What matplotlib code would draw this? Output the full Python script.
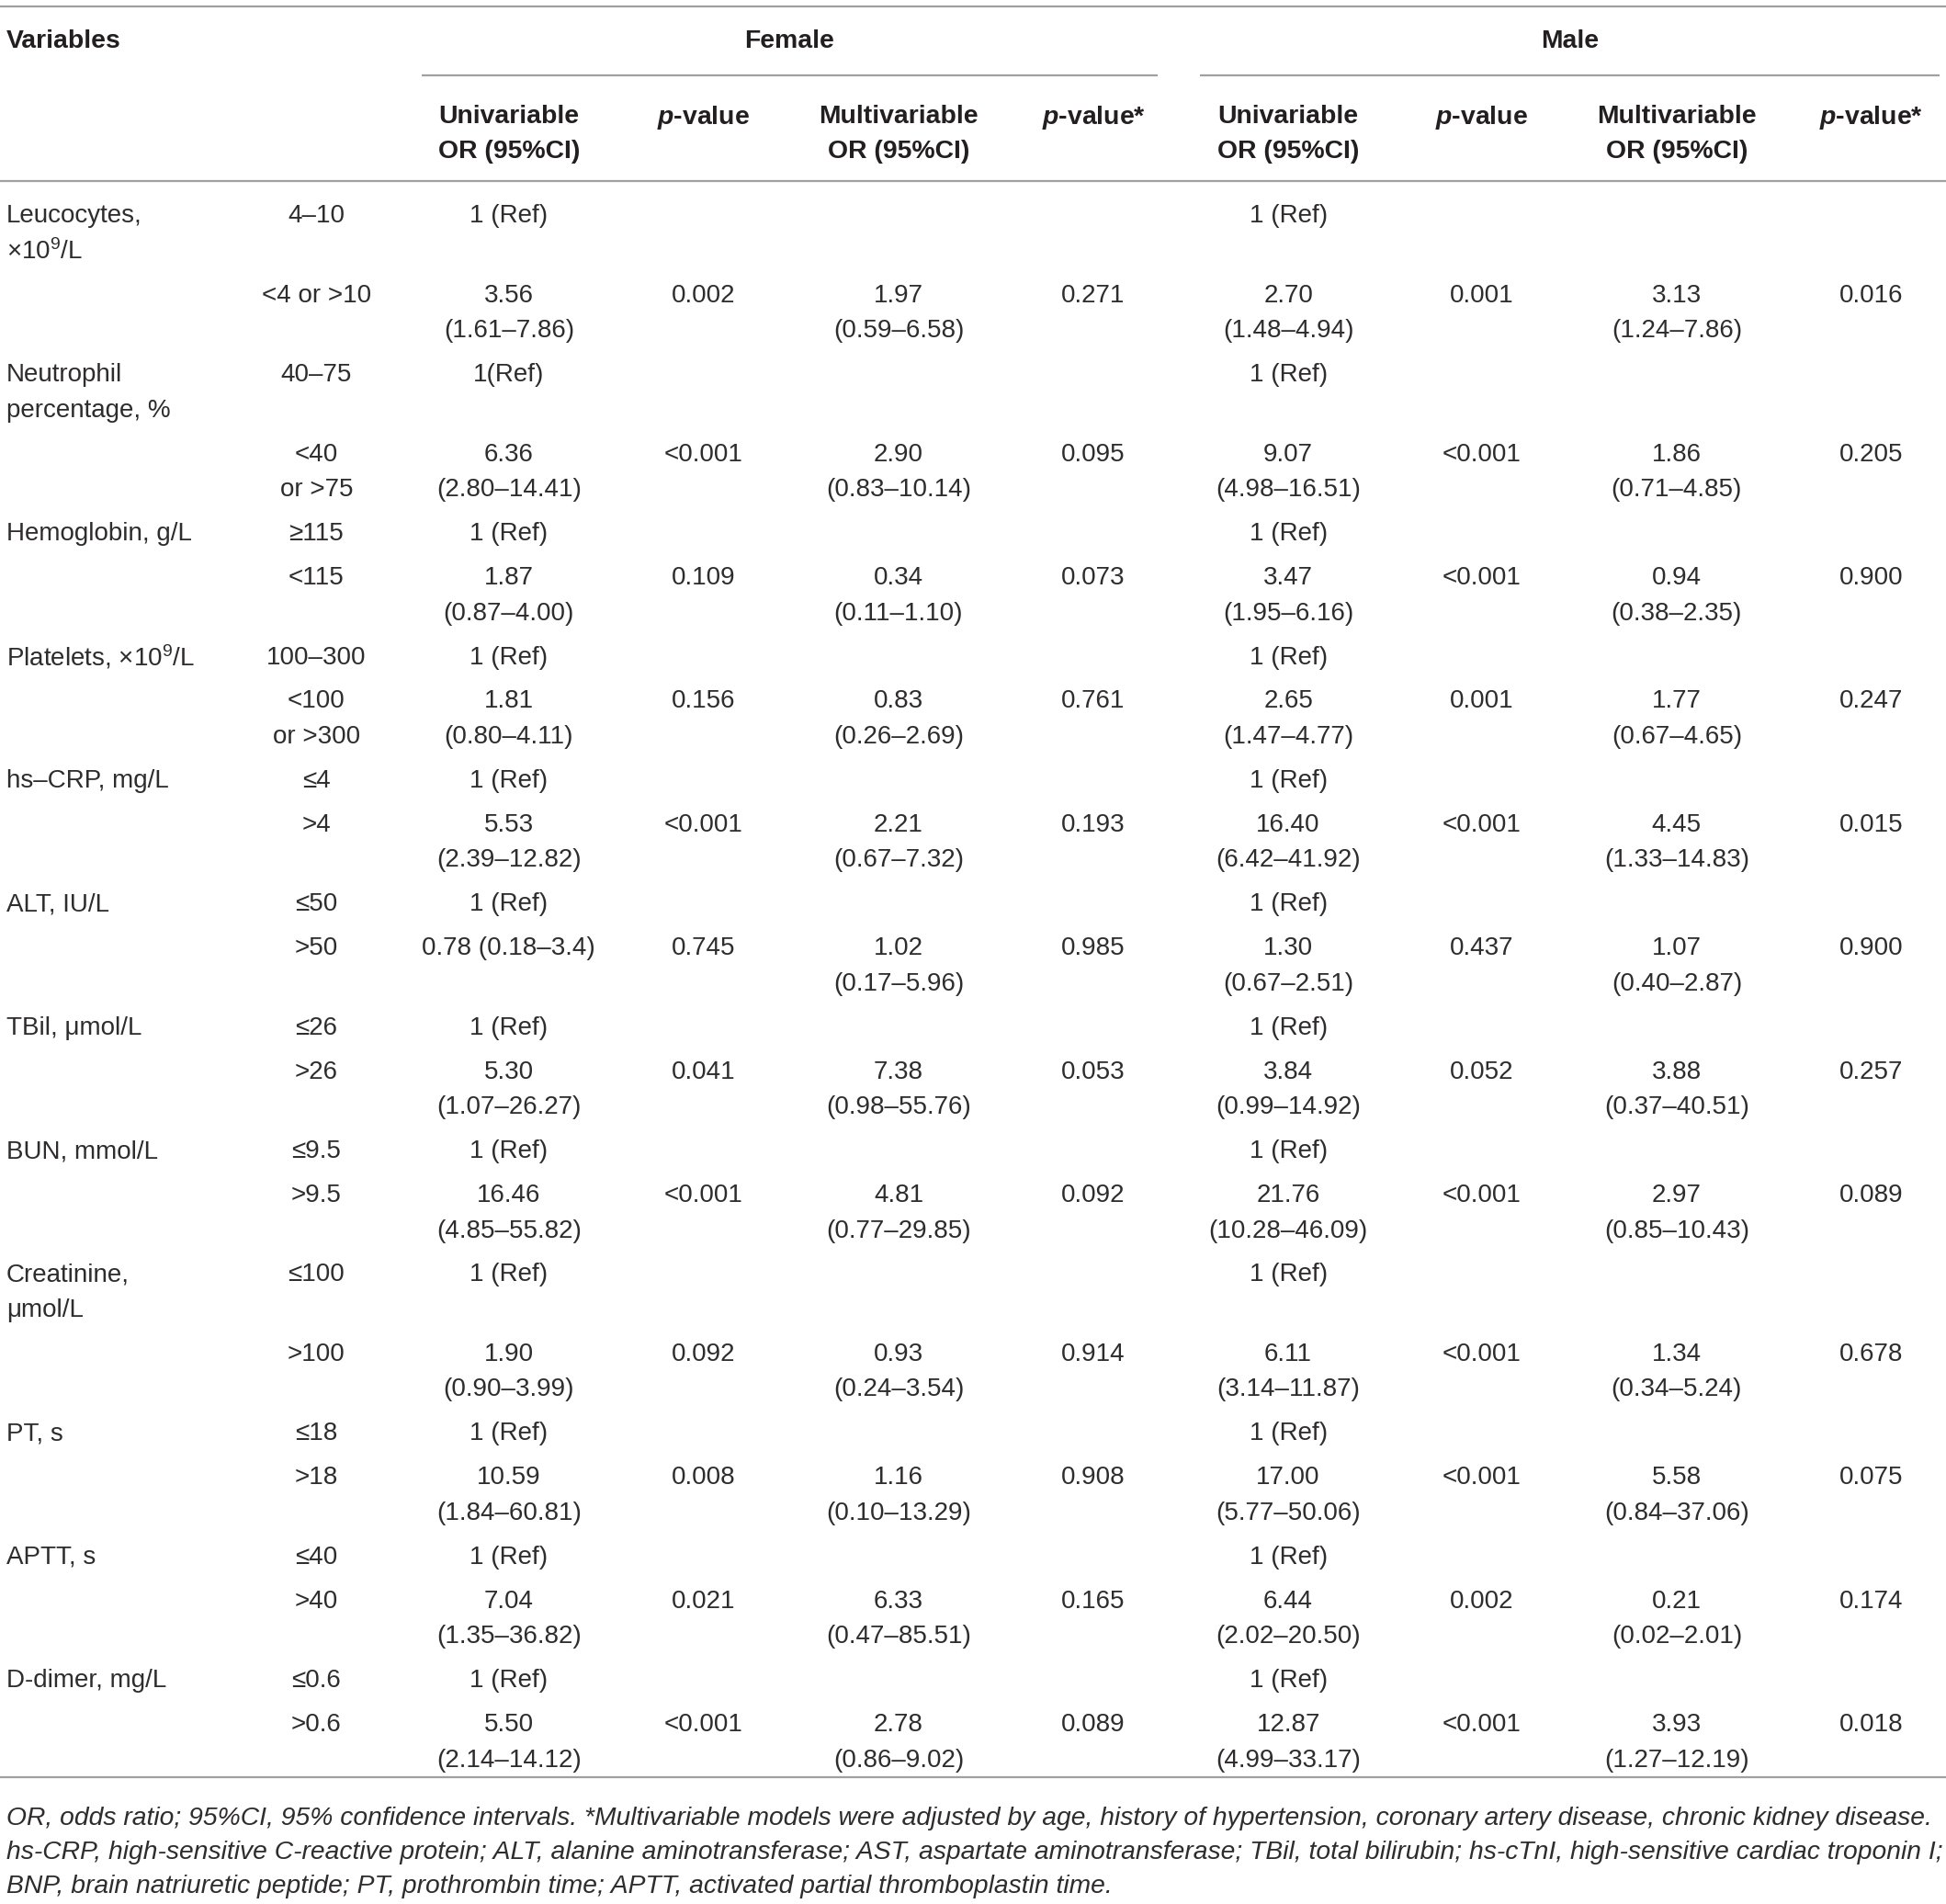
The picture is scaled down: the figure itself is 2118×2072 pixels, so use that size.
import matplotlib
matplotlib.use("Agg")
import matplotlib.pyplot as plt

plt.rcParams['font.family'] = ['Liberation Sans', 'DejaVu Sans']
plt.rcParams['mathtext.fontset'] = 'custom'
plt.rcParams['mathtext.rm'] = 'Liberation Sans'
plt.rcParams['mathtext.it'] = 'Liberation Sans:italic'
plt.rcParams['mathtext.bf'] = 'Liberation Sans:bold'
plt.rcParams['mathtext.bfit'] = 'Liberation Sans:italic:bold'

# ---------------- data ----------------
variables = ["Leucocytes,\n×10$^{9}$/L", "Neutrophil\npercentage, %", "Hemoglobin, g/L",
             "Platelets, ×10$^{9}$/L", "hs–CRP, mg/L", "ALT, IU/L", "TBil, μmol/L",
             "BUN, mmol/L", "Creatinine,\nμmol/L", "PT, s", "APTT, s", "D-dimer, mg/L"]
ref_cats = ["4–10", "40–75", "≥115", "100–300", "≤4", "≤50", "≤26", "≤9.5", "≤100",
            "≤18", "≤40", "≤0.6"]
cmp_cats = ["<4 or >10", "<40\nor >75", "<115", "<100\nor >300", ">4", ">50", ">26",
            ">9.5", ">100", ">18", ">40", ">0.6"]
female_ref = ["1 (Ref)", "1(Ref)", "1 (Ref)", "1 (Ref)", "1 (Ref)", "1 (Ref)", "1 (Ref)",
              "1 (Ref)", "1 (Ref)", "1 (Ref)", "1 (Ref)", "1 (Ref)"]
male_ref = ["1 (Ref)"] * 12

female_uni_or = ["3.56", "6.36", "1.87", "1.81", "5.53", "0.78", "5.30", "16.46", "1.90",
                 "10.59", "7.04", "5.50"]
female_uni_ci = ["1.61–7.86", "2.80–14.41", "0.87–4.00", "0.80–4.11", "2.39–12.82",
                 "0.18–3.4", "1.07–26.27", "4.85–55.82", "0.90–3.99", "1.84–60.81",
                 "1.35–36.82", "2.14–14.12"]
female_uni_p = ["0.002", "<0.001", "0.109", "0.156", "<0.001", "0.745", "0.041", "<0.001",
                "0.092", "0.008", "0.021", "<0.001"]
female_multi_or = ["1.97", "2.90", "0.34", "0.83", "2.21", "1.02", "7.38", "4.81", "0.93",
                   "1.16", "6.33", "2.78"]
female_multi_ci = ["0.59–6.58", "0.83–10.14", "0.11–1.10", "0.26–2.69", "0.67–7.32",
                   "0.17–5.96", "0.98–55.76", "0.77–29.85", "0.24–3.54", "0.10–13.29",
                   "0.47–85.51", "0.86–9.02"]
female_multi_p = ["0.271", "0.095", "0.073", "0.761", "0.193", "0.985", "0.053", "0.092",
                  "0.914", "0.908", "0.165", "0.089"]

male_uni_or = ["2.70", "9.07", "3.47", "2.65", "16.40", "1.30", "3.84", "21.76", "6.11",
               "17.00", "6.44", "12.87"]
male_uni_ci = ["1.48–4.94", "4.98–16.51", "1.95–6.16", "1.47–4.77", "6.42–41.92",
               "0.67–2.51", "0.99–14.92", "10.28–46.09", "3.14–11.87", "5.77–50.06",
               "2.02–20.50", "4.99–33.17"]
male_uni_p = ["0.001", "<0.001", "<0.001", "0.001", "<0.001", "0.437", "0.052", "<0.001",
              "<0.001", "<0.001", "0.002", "<0.001"]
male_multi_or = ["3.13", "1.86", "0.94", "1.77", "4.45", "1.07", "3.88", "2.97", "1.34",
                 "5.58", "0.21", "3.93"]
male_multi_ci = ["1.24–7.86", "0.71–4.85", "0.38–2.35", "0.67–4.65", "1.33–14.83",
                 "0.40–2.87", "0.37–40.51", "0.85–10.43", "0.34–5.24", "0.84–37.06",
                 "0.02–2.01", "1.27–12.19"]
male_multi_p = ["0.016", "0.205", "0.900", "0.247", "0.015", "0.900", "0.257", "0.089",
                "0.678", "0.075", "0.174", "0.018"]

# single-line OR cells (OR and CI on one line)
single_line_cells = {("female_uni", 5)}

group_headers = ["Female", "Male"]
col_headers = [("Univariable", "OR (95%CI)"), ("$\\mathbfit{p}$-value", None),
               ("Multivariable", "OR (95%CI)"), ("$\\mathbfit{p}$-value*", None)]

footnotes = [
    "OR, odds ratio; 95%CI, 95% confidence intervals. *Multivariable models were adjusted by age, history of hypertension, coronary artery disease, chronic kidney disease.",
    "hs-CRP, high-sensitive C-reactive protein; ALT, alanine aminotransferase; AST, aspartate aminotransferase; TBil, total bilirubin; hs-cTnI, high-sensitive cardiac troponin I;",
    "BNP, brain natriuretic peptide; PT, prothrombin time; APTT, activated partial thromboplastin time.",
]

# ---------------- layout ----------------
W, H = 1568, 1534
fig = plt.figure(figsize=(21.18, 20.72), dpi=100)
ax = fig.add_axes([0, 0, 1, 1])
ax.set_xlim(0, W)
ax.set_ylim(H, 0)
ax.axis("off")

TXT = "#2e2c2d"
HDR = "#231f20"
LINE = "#a0a0a0"
FS = 20
FS_HDR = 20.4
FS_NOTE = 20.3
LW = 1.6
PITCH = 28.5
PAD = 7.0

x_var = 5
x_cat = 255
col_x = [410, 567, 724, 881, 1038, 1194, 1351, 1508]


def put(x, y, s, ha="center", fs=FS, color=TXT, **kw):
    ax.text(x, y, s, ha=ha, va="center_baseline", fontsize=fs, color=color, **kw)


def put_lines(x, y, s, ha="center", **kw):
    for i, line in enumerate(s.split("\n")):
        put(x, y + i * PITCH, line, ha=ha, **kw)


def hdr(x, y, s, ha="center"):
    put(x, y, s, ha=ha, fs=FS_HDR, color=HDR, fontweight="bold")


# rules
ax.plot([0, W], [5, 5], color=LINE, lw=LW, solid_capstyle="butt")
ax.plot([340, 933], [61, 61], color=LINE, lw=LW, solid_capstyle="butt")
ax.plot([967, 1563], [61, 61], color=LINE, lw=LW, solid_capstyle="butt")
ax.plot([0, W], [146, 146], color=LINE, lw=LW, solid_capstyle="butt")

# headers
hdr(x_var, 31, "Variables", ha="left")
hdr(636, 31, group_headers[0])
hdr(1265, 31, group_headers[1])
for g in range(2):
    for k, (l1, l2) in enumerate(col_headers):
        x = col_x[g * 4 + k]
        hdr(x, 92, l1)
        if l2:
            hdr(x, 120, l2)

# body
sex_cols = [
    ("female", female_ref, female_uni_or, female_uni_ci, female_uni_p,
     female_multi_or, female_multi_ci, female_multi_p),
    ("male", male_ref, male_uni_or, male_uni_ci, male_uni_p,
     male_multi_or, male_multi_ci, male_multi_p),
]

y = 172
for i, var in enumerate(variables):
    # reference row
    n_ref = max(len(var.split("\n")), len(ref_cats[i].split("\n")), 1)
    put_lines(x_var, y, var, ha="left")
    put_lines(x_cat, y, ref_cats[i])
    for g, cols in enumerate(sex_cols):
        put(col_x[g * 4], y, cols[1][i])
    y += n_ref * PITCH + PAD
    # comparison row
    put_lines(x_cat, y, cmp_cats[i])
    for g, (name, ref, uor, uci, up, mor, mci, mp) in enumerate(sex_cols):
        xb = g * 4
        if (name + "_uni", i) in single_line_cells:
            put(col_x[xb], y, f"{uor[i]} ({uci[i]})")
        else:
            put(col_x[xb], y, uor[i])
            put(col_x[xb], y + PITCH, f"({uci[i]})")
        put(col_x[xb + 1], y, up[i])
        put(col_x[xb + 2], y, mor[i])
        put(col_x[xb + 2], y + PITCH, f"({mci[i]})")
        put(col_x[xb + 3], y, mp[i])
    y += 2 * PITCH + PAD

ax.plot([0, W], [1432, 1432], color=LINE, lw=LW, solid_capstyle="butt")

for j, fn in enumerate(footnotes):
    put(x_var, 1463 + j * 27.5, fn, ha="left", fs=FS_NOTE, fontstyle="italic")

fig.savefig("out.png", dpi=100)
